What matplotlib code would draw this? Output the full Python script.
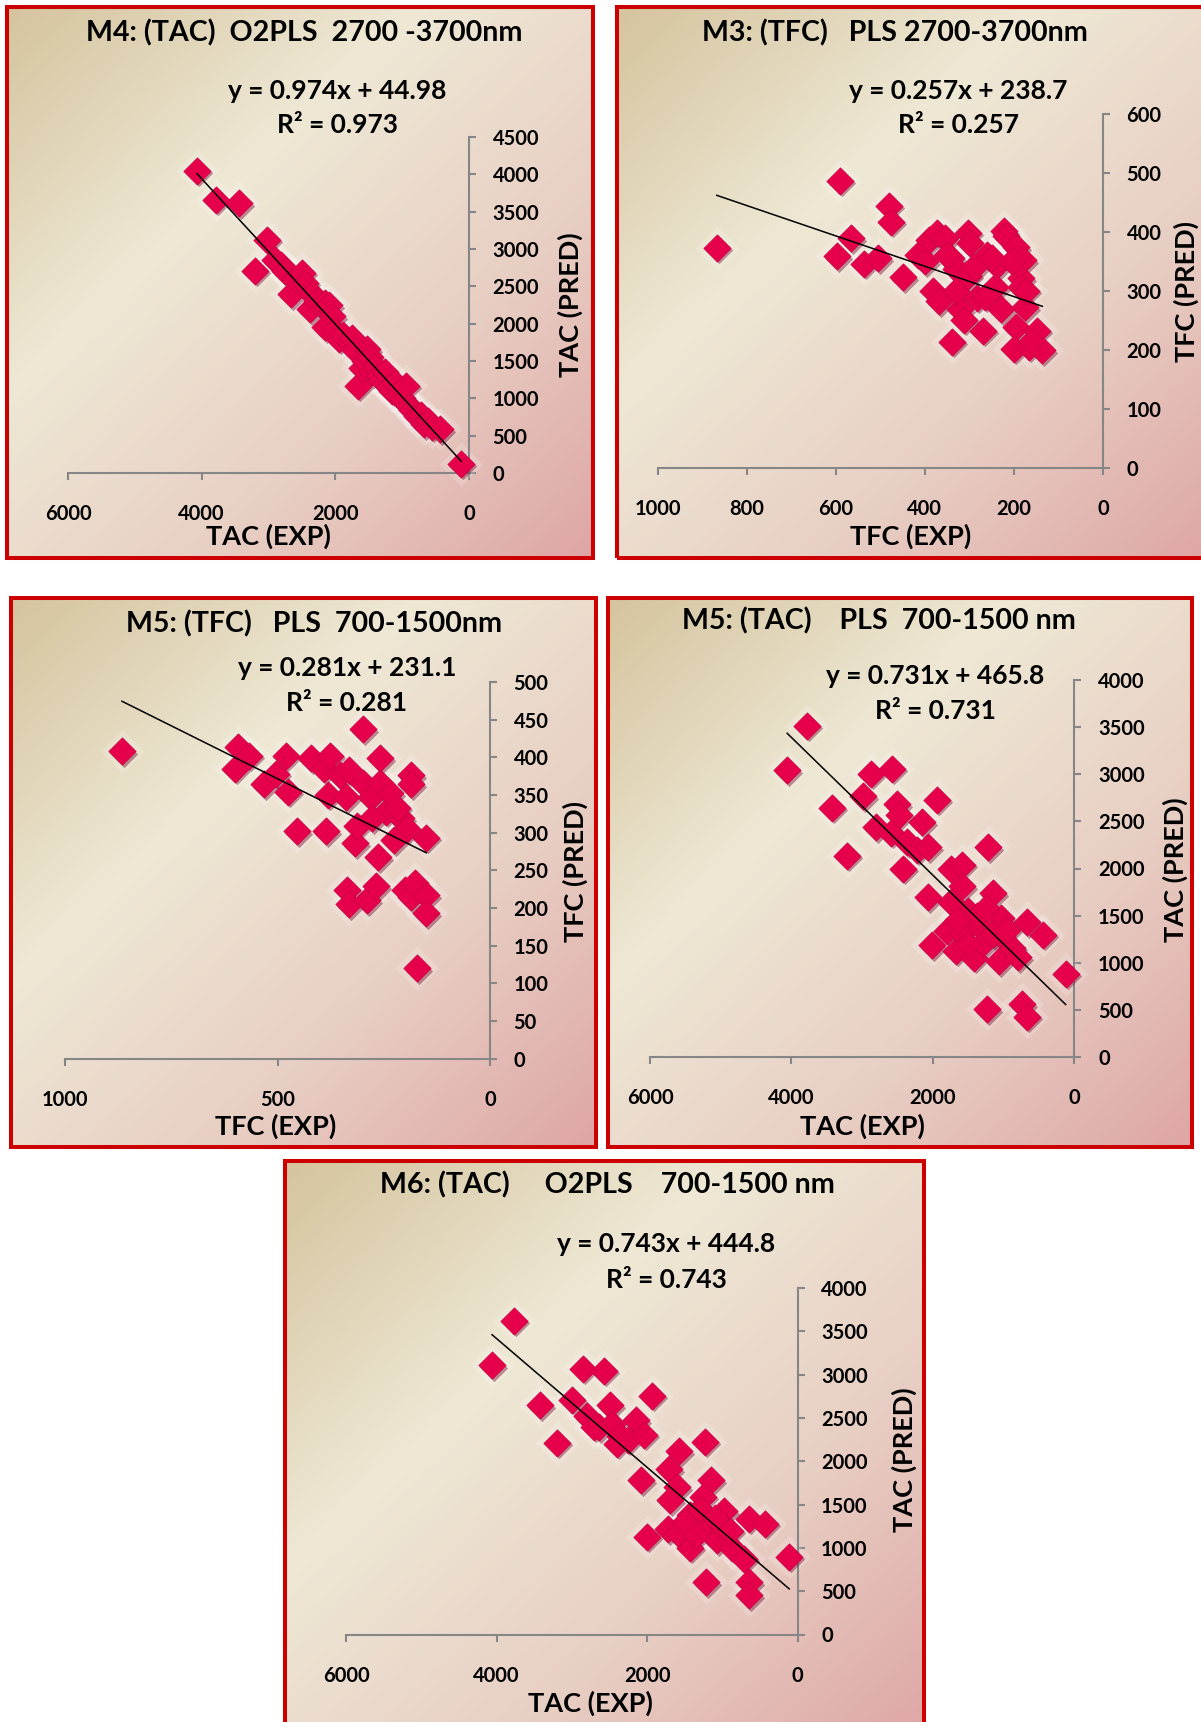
import matplotlib
matplotlib.use('Agg')
import matplotlib.pyplot as plt
import numpy as np
from matplotlib.colors import LinearSegmentedColormap
from matplotlib.patches import Rectangle
from matplotlib.transforms import offset_copy

plt.rcParams['font.family'] = ['Lato', 'DejaVu Sans']
plt.rcParams['font.weight'] = 'bold'

# ---------------- data ----------------
# M4: (TAC) O2PLS 2700-3700nm
m4_exp = [4069, 3782, 3439, 3020, 3209, 2900, 2820, 2750, 2665, 2600, 2493, 2450, 2378, 2350,
          2280, 2150, 2092, 2149, 2050, 2000, 1950, 1880, 1748, 1700, 1662, 1600, 1560, 1519,
          1480, 1450, 1400, 1350, 1300, 1250, 1200, 1150, 1100, 1060, 1000, 946, 900, 850,
          780, 716, 680, 620, 560, 430, 115]
m4_pred = [4051, 3661, 3612, 3124, 2709, 2850, 2780, 2700, 2392, 2600, 2685, 2550, 2196, 2400,
           2300, 2280, 2245, 1952, 2100, 1900, 1800, 1850, 1806, 1650, 1171, 1400, 1500, 1660,
           1550, 1350, 1420, 1300, 1250, 1350, 1150, 1100, 1200, 1050, 1000, 1171, 900, 850,
           760, 781, 650, 700, 620, 586, 122]
m4_fit = [0.974, 44.98, 0.973]

# M3: (TFC) PLS 2700-3700nm
m3_exp = [867, 591, 596, 566, 536, 506, 480, 475, 450, 415, 400, 390, 372, 355, 381, 368, 342,
          329, 338, 321, 303, 299, 303, 282, 269, 260, 237, 243, 230, 222, 218, 196, 179, 183,
          183, 175, 196, 200, 166, 149, 136, 312, 350, 330, 290, 265, 250, 205, 172, 160]
m3_pred = [373, 486, 358, 389, 346, 355, 444, 417, 323, 361, 350, 386, 398, 389, 300, 282, 355,
           337, 214, 269, 398, 380, 325, 288, 232, 361, 343, 306, 269, 401, 392, 374, 352, 321,
           306, 272, 238, 202, 205, 232, 199, 251, 360, 300, 340, 290, 355, 350, 300, 215]
m3_fit = [0.257, 238.7, 0.257]

# M5: (TFC) PLS 700-1500nm
m5f_exp = [866, 594, 599, 567, 531, 504, 481, 476, 454, 422, 390, 386, 376, 381, 354, 340, 331,
           299, 299, 318, 313, 281, 259, 259, 263, 245, 236, 209, 195, 227, 186, 186, 150, 336,
           331, 290, 268, 200, 186, 177, 150, 150, 172, 277, 218]
m5f_pred = [408, 414, 385, 402, 364, 378, 402, 354, 302, 399, 385, 302, 402, 350, 376, 347, 383,
            437, 366, 286, 309, 347, 399, 366, 267, 328, 352, 319, 305, 290, 376, 364, 293, 224,
            205, 210, 229, 224, 214, 233, 217, 193, 120, 319, 333]
m5f_fit = [0.281, 231.1, 0.281]

# M5: (TAC) PLS 700-1500 nm
m5a_exp = [3780, 4061, 3428, 3211, 2995, 2870, 2578, 2805, 2507, 2480, 2590, 2426, 2370, 2230,
           2155, 2074, 1939, 2074, 1749, 1587, 1587, 1749, 1803, 2020, 1668, 1587, 1500, 1424,
           1350, 1289, 1224, 1153, 1072, 1045, 1020, 880, 800, 666, 449, 125, 1235, 747, 666,
           1500, 1380, 1250, 1150, 960, 1640]
m5a_pred = [3515, 3042, 2644, 2133, 2765, 3004, 3061, 2436, 2682, 2568, 2380, 2000, 2280, 2200,
            2492, 2227, 2727, 1697, 2000, 2038, 1811, 1640, 1337, 1186, 1129, 1318, 1550, 1053,
            1400, 1205, 2227, 1735, 1015, 1470, 1280, 1160, 1060, 1432, 1299, 883, 504, 561, 428,
            1200, 1500, 1580, 1300, 1350, 1450]
m5a_fit = [0.731, 465.8, 0.731]

# M6: (TAC) O2PLS 700-1500 nm
m6_exp = [3767, 4059, 3419, 3199, 2995, 2857, 2570, 2802, 2636, 2498, 2471, 2360, 2250, 2140,
          2041, 1930, 2085, 1710, 1577, 1600, 1699, 2002, 1726, 1588, 1423, 1423, 1230, 1147,
          1257, 1202, 1064, 981, 1020, 871, 706, 651, 430, 110, 1213, 651, 651, 1300, 1500,
          1350, 1100, 900, 2700, 2400]
m6_pred = [3621, 3108, 2644, 2215, 2708, 3066, 3045, 2518, 2392, 2644, 2434, 2287, 2250, 2476,
           2308, 2758, 1781, 1908, 2118, 1700, 1550, 1129, 1213, 1171, 1002, 1381, 2223, 1781,
           1592, 1213, 1086, 1423, 1250, 1002, 876, 1339, 1276, 897, 602, 602, 455, 1450, 1300,
           1150, 1350, 1200, 2400, 2200]
m6_fit = [0.743, 444.8, 0.743]

titles = ['M4: (TAC)  O2PLS  2700 -3700nm', 'M3: (TFC)   PLS 2700-3700nm',
          'M5: (TFC)   PLS  700-1500nm', 'M5: (TAC)    PLS  700-1500 nm',
          'M6: (TAC)     O2PLS    700-1500 nm']
x_labels = ['TAC (EXP)', 'TFC (EXP)', 'TFC (EXP)', 'TAC (EXP)', 'TAC (EXP)']
y_labels = ['TAC (PRED)', 'TFC (PRED)', 'TFC (PRED)', 'TAC (PRED)', 'TAC (PRED)']
x_ranges = [(6000, 2000), (1000, 200), (1000, 500), (6000, 2000), (6000, 2000)]
y_ranges = [(4500, 500), (600, 100), (500, 50), (4000, 500), (4000, 500)]

# ---------------- layout (pixels) ----------------
W, H = 1201, 1722
fig = plt.figure(figsize=(W / 100, H / 100), dpi=100)
fig.patch.set_facecolor('white')

layout = [
    dict(box=(7, 7, 593, 558), axes=(68, 137, 469, 473),
         title=(304, 33), eq=(337, 91), r2=(337, 125), xl=(268, 536), yl=(570, 305)),
    dict(box=(617, 7, 1215, 558), axes=(657.5, 113.5, 1103, 468),
         title=(895, 33), eq=(958, 91), r2=(958, 125), xl=(911, 536), yl=(1186, 291)),
    dict(box=(11, 598, 596, 1147), axes=(65, 682, 490, 1058.6),
         title=(314, 624), eq=(347, 668), r2=(347, 702.5), xl=(276, 1126), yl=(575, 872)),
    dict(box=(608, 598, 1192, 1147), axes=(650, 680, 1074.5, 1057),
         title=(879, 621), eq=(935, 676), r2=(935, 711), xl=(862, 1126), yl=(1175, 870)),
    dict(box=(285, 1161, 924, 1745), axes=(346, 1288, 797.5, 1634.5),
         title=(607, 1185), eq=(666, 1244), r2=(666, 1279.5), xl=(590, 1703), yl=(904, 1460)),
]

series = [(m4_exp, m4_pred, m4_fit), (m3_exp, m3_pred, m3_fit), (m5f_exp, m5f_pred, m5f_fit),
          (m5a_exp, m5a_pred, m5a_fit), (m6_exp, m6_pred, m6_fit)]

bg_cmap = LinearSegmentedColormap.from_list(
    'bg', [(0.0, '#D5C49E'), (0.35, '#EEE8D5'), (0.67, '#E8CFC4'), (1.0, '#DEA6A5')])


def rect(x0, y0, x1, y1):
    return [x0 / W, 1 - y1 / H, (x1 - x0) / W, (y1 - y0) / H]


def fpos(x, y):
    return x / W, 1 - y / H


AXIS_GRAY = '#868686'
MARK = '#E6004C'
TITLE_FS = 20.6
EQ_FS = 19
LAB_FS = 19.5
TICK_FS = 14.5

u = np.linspace(0, 1, 300)
v = np.linspace(0, 1, 300)
U, V = np.meshgrid(u, v)
grad = (U + V) / 2.0

for i, lay in enumerate(layout):
    bx = fig.add_axes(rect(*lay['box']))
    bx.imshow(grad, cmap=bg_cmap, extent=[0, 1, 0, 1], aspect='auto', origin='upper',
              vmin=0, vmax=1, interpolation='bilinear')
    bx.set_axis_off()
    bx.add_patch(Rectangle((0, 0), 1, 1, transform=bx.transAxes, fill=False,
                           ec='#CC0000', lw=2.9, clip_on=False, zorder=10))

    exp, pred, fit = series[i]
    slope, intercept, r2 = fit
    xmax, xstep = x_ranges[i]
    ymax, ystep = y_ranges[i]

    ax = fig.add_axes(rect(*lay['axes']))
    ax.patch.set_alpha(0)
    ax.set_xlim(xmax, 0)
    ax.set_ylim(0, ymax)
    for s in ['left', 'top']:
        ax.spines[s].set_visible(False)
    for s in ['right', 'bottom']:
        ax.spines[s].set_color(AXIS_GRAY)
        ax.spines[s].set_linewidth(1.5)
    ax.yaxis.tick_right()
    ax.set_xticks(np.arange(0, xmax + 1, xstep))
    ax.set_yticks(np.arange(0, ymax + 1, ystep))
    ax.tick_params(axis='x', direction='out', length=5, width=1.5, color=AXIS_GRAY,
                   labelsize=TICK_FS, pad=17.5, labelcolor='black')
    ax.tick_params(axis='y', direction='out', length=5, width=1.5, color=AXIS_GRAY,
                   labelsize=TICK_FS, pad=12, labelcolor='black')
    for lbl in ax.get_xticklabels() + ax.get_yticklabels():
        lbl.set_fontweight('bold')

    ms = 13.9
    ax.scatter(exp, pred, s=(ms * 1.6) ** 2, marker='D', color='white', alpha=0.18,
               lw=0, clip_on=False, zorder=2)
    shadow_tr = offset_copy(ax.transData, fig=fig, x=2.0, y=-2.5, units='dots')
    ax.scatter(exp, pred, s=ms ** 2, marker='D', color='#7A1535', alpha=0.45, lw=0,
               transform=shadow_tr, clip_on=False, zorder=3)
    ax.scatter(exp, pred, s=ms ** 2, marker='D', color=MARK, edgecolors='#CC0042',
               linewidths=0.5, clip_on=False, zorder=4)

    xs = np.array([min(exp), max(exp)])
    ax.plot(xs, slope * xs + intercept, color='black', lw=1.1, zorder=5, clip_on=False)

    fig.text(*fpos(*lay['title']), titles[i], ha='center', va='center',
             fontsize=TITLE_FS, fontweight='bold', color='black')
    fig.text(*fpos(*lay['eq']), f'y = {slope}x + {intercept}', ha='center', va='center',
             fontsize=EQ_FS, fontweight='bold', color='black')
    fig.text(*fpos(*lay['r2']), f'R\u00b2 = {r2}', ha='center', va='center',
             fontsize=EQ_FS, fontweight='bold', color='black')
    fig.text(*fpos(*lay['xl']), x_labels[i], ha='center', va='center',
             fontsize=LAB_FS, fontweight='bold', color='black')
    fig.text(*fpos(*lay['yl']), y_labels[i], ha='center', va='center', rotation=90,
             fontsize=LAB_FS, fontweight='bold', color='black')

fig.savefig('out.png', dpi=100, facecolor='white')
